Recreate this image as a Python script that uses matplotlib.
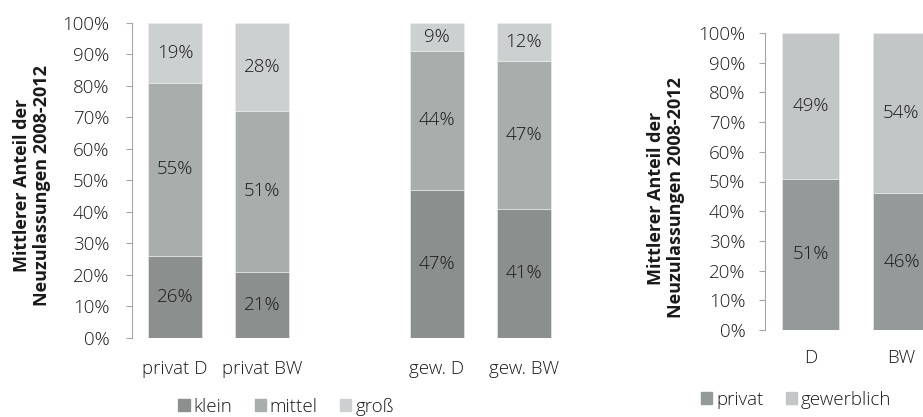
import numpy as np
import matplotlib
matplotlib.use("Agg")
import matplotlib.pyplot as plt
from matplotlib.patches import Patch

plt.rcParams["font.family"] = ["Open Sans", "DejaVu Sans"]
plt.rcParams["font.weight"] = "light"

# linkes Diagramm: Größenklassen je Halter
cats_l = ["privat D", "privat BW", "gew. D", "gew. BW"]
klein = [26, 21, 47, 41]
mittel = [55, 51, 44, 47]
gross = [19, 28, 9, 12]

# rechtes Diagramm: Haltergruppen
cats_r = ["D", "BW"]
privat = [51, 46]
gewerblich = [49, 54]

C_KLEIN, C_MITTEL, C_GROSS = "#8b8f8e", "#a8aeac", "#cdd0d1"
C_PRIV, C_GEW = "#949a99", "#c3c6c7"
TXT = "#1a1a1a"
AXC = "#a6a6a6"
YLAB = "Mittlerer Anteil der\nNeuzulassungen 2008-2012"
FS = 13.5

fig = plt.figure(figsize=(9.23, 4.17), dpi=100)


def style(ax, pad_y, pad_x):
    ax.set_ylim(0, 1)
    ax.set_yticks(np.arange(0, 1.01, 0.1))
    ax.set_yticklabels([f"{v}%" for v in range(0, 101, 10)])
    for s in ("top", "right", "bottom"):
        ax.spines[s].set_visible(False)
    ax.spines["left"].set_color(AXC)
    ax.tick_params(axis="y", direction="out", length=4, color=AXC,
                   labelsize=FS, labelcolor=TXT, pad=pad_y)
    ax.tick_params(axis="x", length=0, labelsize=FS, labelcolor=TXT, pad=pad_x)


def stack(ax, xs, series, colors, w):
    bottom = np.zeros(len(xs))
    for vals, col in zip(series, colors):
        v = np.array(vals) / 100
        ax.bar(xs, v, w, bottom=bottom, color=col, edgecolor="#eeeeee", linewidth=0.4)
        for x, b, h, lab in zip(xs, bottom, v, vals):
            ax.text(x, b + h / 2, f"{lab}%", ha="center", va="center",
                    fontsize=FS, color=TXT)
        bottom += v


# ---- links ----
ax1 = fig.add_axes([131.5 / 923, 79 / 417, 436 / 923, 315.3 / 417])
xl = [0, 1, 3, 4]
stack(ax1, xl, [klein, mittel, gross], [C_KLEIN, C_MITTEL, C_GROSS], 0.62)
ax1.set_xlim(-0.5, 4.5)
ax1.set_xticks(xl)
ax1.set_xticklabels(cats_l)
style(ax1, 12, 16)

fig.text(32 / 923, (417 - 185) / 417, YLAB, rotation=90, ha="center", va="center",
         fontsize=13, fontweight="bold", color=TXT, linespacing=1.15)

fig.legend([Patch(color=C_KLEIN), Patch(color=C_MITTEL), Patch(color=C_GROSS)],
           ["klein", "mittel", "groß"], loc="center", ncol=3, frameon=False,
           bbox_to_anchor=(286 / 923, 10 / 417), fontsize=FS, handlelength=0.6,
           handleheight=0.6, handletextpad=0.2, columnspacing=1.2,
           labelcolor=TXT)

# ---- rechts (läuft über den Bildrand hinaus) ----
ax2 = fig.add_axes([765 / 923, 87 / 417, 182 / 923, 297 / 417])
xr = [0, 1]
stack(ax2, xr, [privat, gewerblich], [C_PRIV, C_GEW], 0.62)
ax2.set_xlim(-0.5, 1.5)
ax2.set_xticks(xr)
ax2.set_xticklabels(cats_r)
style(ax2, 10, 14)

fig.text(666 / 923, (417 - 198) / 417, YLAB, rotation=90, ha="center", va="center",
         fontsize=13, fontweight="bold", color=TXT, linespacing=1.15)

fig.legend([Patch(color=C_PRIV), Patch(color=C_GEW)], ["privat", "gewerblich"],
           loc="center", ncol=2, frameon=False,
           bbox_to_anchor=(796 / 923, 17 / 417), fontsize=FS, handlelength=0.6,
           handleheight=0.6, handletextpad=0.2, columnspacing=1.2,
           labelcolor=TXT)

fig.savefig("out.png", dpi=100)
